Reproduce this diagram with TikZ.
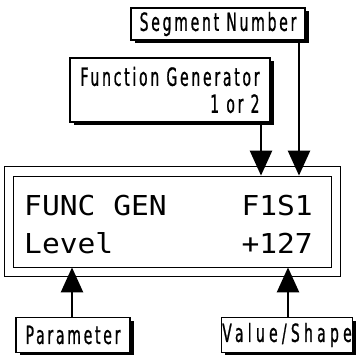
\documentclass[tikz,border=0pt]{standalone}
\usepackage{fontspec}
\newfontfamily\labelfont[FakeStretch=0.56,LetterSpace=11,FakeBold=0.8]{DejaVu Sans}
\newfontfamily\lcdfont[FakeStretch=1.08]{DejaVu Sans Mono}
\usetikzlibrary{shadows,arrows.meta}

\begin{document}
\begin{tikzpicture}[x=1pt,y=-1pt]
    \tikzset{
        tag/.style={draw, line width=1.3pt, fill=white, inner sep=0pt,
            font=\labelfont\fontsize{25}{27}\selectfont,
            drop shadow={shadow xshift=3.5pt, shadow yshift=-3.5pt, fill=black, opacity=1}},
        frame/.style={draw, line width=0.8pt, inner sep=0pt},
        lcd/.style={inner sep=0pt, font=\lcdfont\fontsize{27.4}{30}\selectfont},
        pointer/.style={-{Triangle[length=25pt,width=22pt]}, line width=2.5pt}
    }
    \useasboundingbox (0,0) rectangle (358,355);

    % Label boxes
    \node[tag, minimum width=174pt, minimum height=32pt] (segment) at (218,24) {Segment Number};
    \node[tag, minimum width=200pt, minimum height=64pt, align=right] (funcgen) at (170,90)
        {Function Generator\\1 or 2};
    \node[tag, minimum width=114pt, minimum height=35pt] (param) at (73,335) {Parameter};
    \node[tag, minimum width=131pt, minimum height=35pt] (value) at (287,335)
        {\addfontfeature{LetterSpace=17}Value/Shape};

    % Display
    \node[frame, minimum width=336pt, minimum height=110pt] (bezel) at (172,221) {};
    \node[frame, minimum width=318pt, minimum height=91pt] (screen) at (172,221.5) {};

    % Display text
    \node[lcd, anchor=base west] (nameRow) at (24,215) {FUNC GEN};
    \node[lcd, anchor=base east] (codeRow) at (313,215) {F1S1};
    \node[lcd, anchor=base west] (paramRow) at (24,253) {Level};
    \node[lcd, anchor=base east] (valueRow) at (313,253) {+127};

    % Arrows
    \coordinate (fgX) at (261,0);
    \coordinate (segX) at (299,0);
    \coordinate (parX) at (72,0);
    \coordinate (valX) at (288,0);
    \draw[pointer] (funcgen.south -| fgX) -- (screen.north -| fgX);
    \draw[pointer] (segment.south -| segX) -- (screen.north -| segX);
    \draw[pointer] (param.north -| parX) -- (screen.south -| parX);
    \draw[pointer] (value.north -| valX) -- (screen.south -| valX);

\end{tikzpicture}
\end{document}
